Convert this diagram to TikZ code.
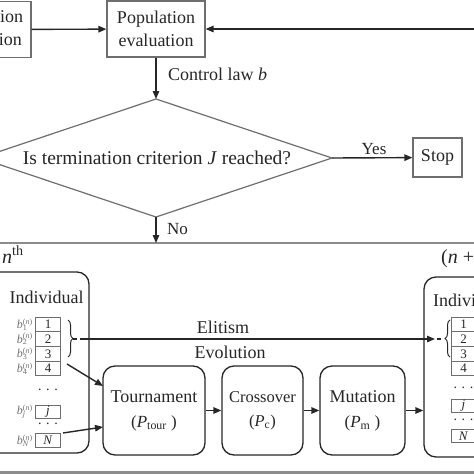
\documentclass[tikz,border=0pt]{standalone}
\usepackage{fontspec}
\setmainfont{Liberation Serif}
\usetikzlibrary{arrows.meta,decorations.pathreplacing}
\definecolor{boxgray}{HTML}{6E6E6E}
\definecolor{dark}{HTML}{262626}
\definecolor{framegray}{HTML}{8C8C8C}
\newcommand{\blab}[1]{\textit{b}\rlap{\textsubscript{#1}}\textsuperscript{(\textit{n})}}
\begin{document}
\begin{tikzpicture}[x=1pt,y=-1pt,
  every node/.style={text=dark},
  sq/.style={draw=boxgray,line width=1.2pt,fill=white,inner sep=0pt,align=center,font=\fontsize{18}{23}\selectfont},
  rbox/.style={draw=dark,line width=1.3pt,rounded corners=12pt,inner sep=0pt,align=center,font=\fontsize{18}{23}\selectfont},
  arr/.style={draw=dark,line width=1.4pt,-{Triangle[length=8pt,width=6.5pt]}},
  cell/.style={draw=boxgray,line width=0.9pt,minimum width=25pt,inner sep=0pt,font=\fontsize{13}{13}\selectfont},
  lbl/.style={font=\fontsize{18}{22}\selectfont,inner sep=0pt},
  blb/.style={font=\fontsize{12}{12}\selectfont,inner sep=0pt,anchor=east,text=boxgray},
  dots/.style={font=\fontsize{14}{14}\selectfont,inner sep=0pt},
  brc/.style={draw=dark,line width=1pt,decorate,decoration={brace,amplitude=5pt}}
]
\useasboundingbox (0,0) rectangle (474,474);
\clip (0,0) rectangle (474,474);

% frame of the lower part
\draw[framegray,line width=1.5pt] (-10,243) -- (490,243);
\draw[framegray,line width=3.5pt] (-10,472.5) -- (490,472.5);

% top boxes
\node[sq,minimum width=94pt,minimum height=56pt] (gen) at (-16,29.5) {Population\\generation};
\node[sq,minimum width=98pt,minimum height=56pt] (eval) at (156,29) {Population\\evaluation};
\coordinate (fb) at (480,29);
\draw[arr] (gen) -- (eval);
\draw[arr] (fb) -- (eval);

% diamond
\coordinate (dT) at (156,99);
\coordinate (dR) at (332,158);
\coordinate (dB) at (156,217);
\coordinate (dL) at (-20,158);
\draw[boxgray,line width=1.2pt,fill=white] (dT) -- (dR) -- (dB) -- (dL) -- cycle;
\node[font=\fontsize{19.5}{22}\selectfont,inner sep=0pt] (q) at (157,158) {Is termination criterion \textit{J} reached?};
\draw[arr] (eval) -- (dT);
\node[lbl,anchor=west] (cl) at (168,74) {Control law \textit{b}};

\node[sq,minimum width=49pt,minimum height=39pt] (stop) at (437.5,157.5) {Stop};
\draw[arr] (dR) -- (stop);
\node[lbl,font=\fontsize{17}{20}\selectfont] (yes) at (374,149) {Yes};

\coordinate (nb) at (156,243);
\draw[arr] (dB) -- (nb);
\node[lbl,anchor=west,font=\fontsize{17}{20}\selectfont] (no) at (167,229) {No};

% generation labels
\node[inner sep=0pt,anchor=base west,font=\fontsize{20}{20}\selectfont] (nth) at (2,263) {\textit{n}\textsuperscript{th}};
\node[inner sep=0pt,anchor=base west,font=\fontsize{20}{20}\selectfont] (n1th) at (441,263) {(\textit{n} + 1)\textsuperscript{th}};

% individual boxes
\node[rbox,minimum width=109pt,minimum height=181pt] (indL) at (34.5,362.5) {};
\node[rbox,minimum width=106pt,minimum height=180pt] (indR) at (477,367) {};
\node[lbl] (iL) at (46.5,297) {Individual};
\node[lbl,anchor=west] (iR) at (433,300) {Individual};

% left cells
\node[cell,minimum height=14.7pt] (l1) at (48,324.4) {1};
\node[cell,minimum height=14.7pt] (l2) at (48,339.1) {2};
\node[cell,minimum height=14.7pt] (l3) at (48,353.8) {3};
\node[cell,minimum height=14.7pt] (l4) at (48,368.5) {4};
\node[dots] (ld1) at (48,390) {.\,\,.\,\,.};
\node[cell,minimum height=13pt] (lj) at (48,411.5) {\textit{j}};
\node[dots] (ld2) at (48,424) {.\,\,.\,\,.};
\node[cell,minimum height=14.5pt] (lN) at (48,440.5) {\textit{N}};
\node[blb] (b1) at (33,324.4) {\blab{1}};
\node[blb] (b2) at (33,339.1) {\blab{2}};
\node[blb] (b3) at (33,353.8) {\blab{3}};
\node[blb] (b4) at (33,368.5) {\blab{4}};
\node[blb] (bj) at (33,411.5) {\blab{\textit{j}}};
\node[blb] (bN) at (33,440.5) {\blab{\textit{N}}};

% right cells
\node[cell,minimum height=14.7pt] (r1) at (463.5,324.4) {1};
\node[cell,minimum height=14.7pt] (r2) at (463.5,339.1) {2};
\node[cell,minimum height=14.7pt] (r3) at (463.5,353.8) {3};
\node[cell,minimum height=14.7pt] (r4) at (463.5,368.5) {4};
\node[dots] (rd1) at (463.5,388) {.\,\,.\,\,.};
\node[cell,minimum height=12.5pt] (rj) at (463.5,406) {\textit{j}};
\node[dots] (rd2) at (463.5,420) {.\,\,.\,\,.};
\node[cell,minimum height=12.5pt] (rN) at (463.5,436) {\textit{N}};

% braces and elitism
\draw[brc] (68,320) -- (68,357);
\draw[brc] (450,357) -- (450,320);
\coordinate (lbt) at (73,339);
\coordinate (lbe) at (77,339);
\coordinate (eS) at (80,339);
\coordinate (eE) at (435,339);
\coordinate (rbs) at (437,339);
\coordinate (rbt) at (441,339);
\draw[dark,line width=1.2pt] (lbt) -- (lbe);
\draw[dark,line width=1.2pt] (rbs) -- (rbt);
\draw[arr] (eS) -- (eE);
\node[lbl] (eli) at (223,327) {Elitism};
\node[lbl] (evo) at (230,352) {Evolution};

% evolution operators
\node[rbox,minimum width=102pt,minimum height=89pt] (tour) at (154,410.5) {Tournament\\[2pt]{\fontsize{17}{20}\selectfont(\textit{P}\textsubscript{tour} )}};
\node[rbox,minimum width=81pt,minimum height=89pt,font=\fontsize{16.5}{22}\selectfont] (cross) at (262.5,410.5) {Crossover\\[2pt](\textit{P}\textsubscript{c})};
\node[rbox,minimum width=85pt,minimum height=89pt] (mut) at (362.5,410.5) {Mutation\\[2pt]{\fontsize{17}{20}\selectfont(\textit{P}\textsubscript{m} )}};

\coordinate (c4) at (67,364);
\coordinate (t1) at (103,386);
\coordinate (cN) at (63,433);
\coordinate (t2) at (103,427);
\draw[arr] (c4) -- (t1);
\draw[arr] (cN) -- (t2);
\draw[arr] (tour) -- (cross);
\draw[arr] (cross) -- (mut);
\draw[arr] (mut.east) -- (mut.east -| indR.west);
\end{tikzpicture}
\end{document}
